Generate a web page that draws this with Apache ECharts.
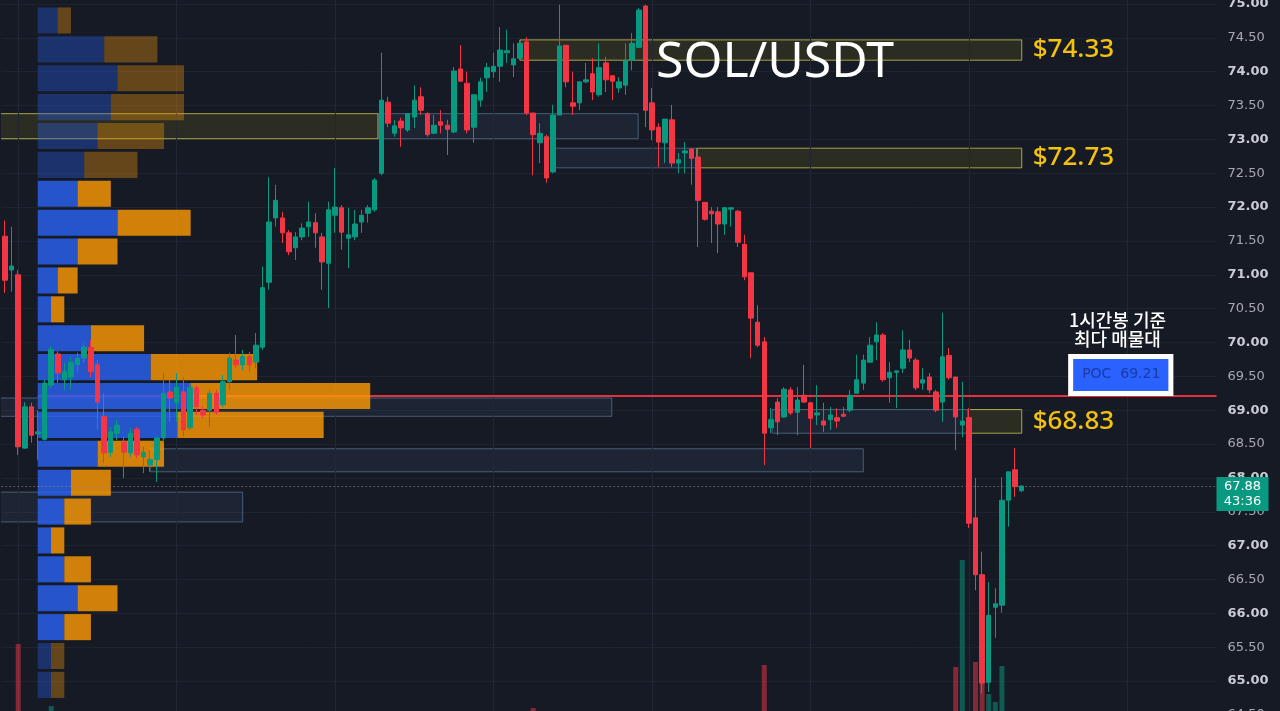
<!DOCTYPE html>
<html>
<head>
<meta charset="utf-8">
<title>SOL/USDT</title>
<script src="https://cdn.jsdelivr.net/npm/echarts@6/dist/echarts.min.js"></script>
<style>
html, body { margin: 0; padding: 0; background: #161a25; }
#main { width: 1280px; height: 711px; }
</style>
</head>
<body>
<div id="main"></div>
<script>
// 1시간봉 [시가, 종가, 저가, 고가]
var candles = [
  [71.57,70.92,70.73,71.80],[71.07,71.13,70.75,71.71],[71.00,68.46,68.34,71.07],[68.44,69.05,68.43,69.12],
  [69.05,68.63,68.52,69.11],[68.65,68.68,68.26,69.00],[68.57,69.40,68.55,69.45],[69.37,69.90,69.33,69.95],
  [69.83,69.55,69.40,69.87],[69.45,69.57,69.30,69.70],[69.49,69.71,69.30,69.79],[69.67,69.77,69.55,69.85],
  [69.77,69.93,69.70,69.99],[69.93,69.57,69.49,70.04],[69.67,69.12,68.71,69.74],[68.91,68.37,68.22,69.25],
  [68.38,68.68,68.31,68.75],[68.66,68.78,68.56,68.86],[68.53,68.38,68.00,68.61],[68.37,68.66,68.31,68.74],
  [68.72,68.34,68.29,68.75],[68.31,68.38,68.07,68.46],[68.19,68.27,68.09,68.41],[68.27,68.59,67.94,68.61],
  [68.59,69.25,68.52,69.55],[69.27,69.18,68.83,69.45],[69.11,69.34,68.83,69.55],[69.27,68.71,68.61,69.49],
  [68.74,69.34,68.71,69.40],[69.33,69.05,68.93,69.37],[69.00,68.93,68.89,69.05],[69.00,69.25,68.75,69.30],
  [69.25,68.97,68.93,69.30],[69.08,69.42,69.05,69.52],[69.42,69.77,69.30,69.85],[69.74,69.67,69.62,70.11],
  [69.67,69.79,69.59,69.89],[69.79,69.67,69.57,69.86],[69.71,69.96,69.62,70.14],[69.93,70.81,69.89,71.12],
  [70.89,71.78,70.78,72.44],[71.84,72.10,71.71,72.33],[71.84,71.62,71.47,71.93],[71.62,71.34,71.29,71.66],
  [71.40,71.56,71.22,71.63],[71.56,71.69,71.51,71.76],[71.71,71.78,71.56,72.08],[71.77,71.62,71.40,71.91],
  [71.56,71.19,70.78,71.62],[71.17,71.96,70.51,72.08],[71.88,72.00,71.62,72.58],[71.99,71.63,71.37,72.03],
  [71.54,71.59,71.10,71.99],[71.56,71.75,71.51,71.96],[71.78,71.88,71.62,71.96],[71.91,71.99,71.77,72.03],
  [71.96,72.40,71.93,72.43],[72.50,73.58,72.47,74.28],[73.55,73.24,73.18,73.63],[73.09,73.20,73.04,73.29],
  [73.27,73.17,72.89,73.32],[73.14,73.38,73.11,73.39],[73.33,73.58,73.17,73.80],[73.63,73.43,73.36,73.77],
  [73.38,73.07,73.04,73.40],[73.09,73.21,73.09,73.36],[73.26,73.21,73.09,73.43],[73.21,73.15,72.77,73.29],
  [73.11,74.01,73.09,74.07],[74.04,73.86,73.85,74.39],[73.83,73.14,73.09,74.00],[73.18,73.66,72.95,73.66],
  [73.58,73.85,73.48,73.91],[73.91,74.06,73.70,74.13],[74.00,74.08,73.91,74.28],[74.08,74.32,73.85,74.66],
  [74.28,74.31,74.13,74.62],[74.10,74.19,73.92,74.42],[74.20,74.42,74.17,74.47],[74.44,73.39,73.36,74.51],
  [73.39,73.07,72.47,73.39],[72.95,73.09,72.65,73.24],[73.04,72.43,72.36,73.07],[72.52,73.36,72.50,73.51],
  [73.36,74.38,73.36,74.99],[74.39,73.85,73.77,74.39],[73.54,73.49,73.36,74.00],[73.54,73.85,73.43,73.85],
  [73.85,73.88,73.83,74.13],[73.97,73.70,73.58,74.20],[73.66,74.06,73.63,74.42],[74.13,73.88,73.70,74.22],
  [73.94,73.86,73.58,73.95],[73.76,73.85,73.69,73.92],[73.80,74.17,73.66,74.42],[74.17,74.42,74.02,74.57],
  [74.36,74.91,74.35,74.94],[74.97,73.43,73.18,74.99],[73.54,73.14,72.99,73.76],[73.18,72.96,72.59,73.24],
  [72.95,73.30,72.65,73.30],[73.29,72.65,72.59,73.51],[72.65,72.70,72.50,72.80],[72.80,72.83,72.50,72.96],
  [72.86,72.72,72.33,72.87],[72.74,72.10,71.41,72.87],[72.07,71.82,71.80,72.07],[71.94,71.90,71.47,72.00],
  [71.93,71.75,71.32,72.00],[71.75,71.99,71.59,72.00],[71.97,71.99,71.71,72.00],[71.94,71.48,71.41,71.96],
  [71.45,70.97,70.92,71.59],[71.03,70.36,69.77,71.03],[70.30,69.96,69.93,70.55],[70.01,68.66,68.19,70.08],
  [68.74,68.86,68.66,69.03],[69.12,68.83,68.63,69.18],[68.90,69.31,68.89,69.34],[69.30,68.96,68.93,69.34],
  [68.97,69.15,68.63,69.34],[69.22,69.12,69.11,69.67],[69.11,68.88,68.44,69.12],[68.93,68.96,68.78,69.37],
  [68.84,68.78,68.68,69.11],[68.86,68.93,68.71,69.05],[68.89,68.84,68.74,69.03],[68.94,68.91,68.90,69.05],
  [69.00,69.22,68.97,69.30],[69.25,69.45,69.25,69.82],[69.40,69.74,69.30,69.82],[69.71,69.96,69.70,70.08],
  [70.01,70.11,69.74,70.30],[70.11,69.45,69.42,70.14],[69.48,69.56,69.11,69.71],[69.56,69.58,69.03,69.59],
  [69.62,69.89,69.55,70.18],[69.89,69.77,69.71,70.04],[69.74,69.33,69.30,69.77],[69.40,69.45,69.30,69.62],
  [69.49,69.30,69.25,69.55],[69.27,69.00,68.97,69.30],[69.12,69.79,68.83,70.44],[69.81,69.48,69.45,69.92],
  [69.49,68.90,68.41,69.49],[68.78,68.84,68.60,69.42],[68.89,67.33,67.26,69.03],[67.41,66.57,66.34,68.00],
  [66.57,64.97,64.82,66.91],[64.98,65.97,64.84,66.46],[66.09,66.14,65.64,66.37],[66.12,67.67,66.01,68.01],
  [67.67,68.09,67.28,68.09],[68.12,67.87,67.72,68.44],[67.81,67.88,67.79,67.89]
];

// 거래량 (천 단위, 대략)
var volumes = [
  40,30,116,45,35,25,40,54,25,20,20,18,20,25,35,40,22,18,30,20,
  22,15,14,25,40,20,25,28,25,18,12,20,15,20,25,22,15,14,20,45,
  48,30,20,18,15,12,18,15,25,35,30,20,18,14,12,12,25,48,25,15,
  18,15,22,15,20,12,12,18,40,25,30,20,15,12,12,25,15,12,15,40,
  52,25,35,38,45,30,18,15,12,18,20,15,12,10,20,18,35,45,30,25,
  22,28,12,12,15,35,20,15,18,14,10,22,28,40,30,95,30,25,22,20,
  22,18,25,14,12,10,10,8,15,22,25,20,22,30,15,14,25,15,22,12,
  14,18,40,25,93,200,42,98,115,66,58,94,40,30,8
];

// 매물대 (24구간, 위에서부터) 매수 / 매도
var profileBuy  = [3,10,12,11,9,7,6,12,6,3,2,8,17,23,21,9,5,4,2,4,6,4,2,2];
var profileSell = [2,8,10,11,10,8,5,11,6,3,2,8,16,27,22,10,6,4,2,4,6,4,2,2];
var profileTop = 74.97;
var rowSize = 0.4267;
var valueAreaFrom = 6, valueAreaTo = 21;

var pocPrice = 69.21;
var lastPrice = 67.88;
var countdown = '43:36';

// 지지/저항 구간
var zoneFrom  = [-1, 56.5, 78, 83, 104.8, -1, 22, -1, 116.2, 145.9];
var zoneTo    = [56.5, 95.9, 154, 104.8, 154, 91.9, 130, 36, 145.9, 154];
var zoneLow   = [73.01, 73.01, 74.17, 72.58, 72.58, 68.91, 68.09, 67.35, 68.66, 68.66];
var zoneHigh  = [73.38, 73.38, 74.47, 72.87, 72.87, 69.18, 68.43, 67.79, 69.01, 69.01];
var zoneKind  = ['gold','blue','gold','blue','gold','blue','blue','blue','blue','gold'];
var zoneLabel = ['', '', '$74.33', '', '$72.73', '', '', '', '', '$68.83'];

var dayLines = [2, 26, 50, 74, 98, 122, 146, 170];
var slots = 184;
var pocLineFrom = 4.95;

var categories = [];
for (var i = 0; i < slots; i++) categories.push(String(i));

var UP = '#089981', DOWN = '#f23645';

window.onload = function () {
  var myChart = echarts.init(document.getElementById('main'));

  var zoneData = zoneFrom.map(function (f, i) { return [f, zoneTo[i], zoneLow[i], zoneHigh[i]]; });
  var profileData = profileBuy.map(function (b, i) { return [i, b, profileSell[i]]; });
  var volData = volumes.map(function (v, i) {
    var up = candles[i][1] >= candles[i][0];
    return { value: v, itemStyle: { color: up ? 'rgba(8,153,129,0.5)' : 'rgba(242,54,69,0.5)' } };
  });

  function renderZone(params, api) {
    var i = params.dataIndex;
    var p0 = api.coord([api.value(0), api.value(3)]);
    var p1 = api.coord([api.value(1), api.value(2)]);
    var gold = zoneKind[i] === 'gold';
    var kids = [{
      type: 'rect',
      shape: { x: p0[0], y: p0[1], width: p1[0] - p0[0], height: p1[1] - p0[1] },
      style: {
        fill: gold ? 'rgba(150,140,30,0.17)' : 'rgba(80,110,150,0.13)',
        stroke: gold ? 'rgba(205,195,75,0.8)' : 'rgba(105,135,170,0.6)',
        lineWidth: 1
      }
    }];
    if (zoneLabel[i]) {
      kids.push({
        type: 'text', x: p1[0] + 11, y: (p0[1] + p1[1]) / 2,
        style: { text: zoneLabel[i], fill: '#f4c20d', font: '500 26px "Noto Sans"', align: 'left', verticalAlign: 'middle' }
      });
    }
    return { type: 'group', children: kids };
  }

  function renderProfile(params, api) {
    var row = api.value(0), buy = api.value(1), sell = api.value(2);
    var hi = profileTop - row * rowSize, lo = hi - rowSize;
    var a = api.coord([0, hi]), b = api.coord([buy, lo]), c = api.coord([buy + sell, lo]);
    var inVA = row >= valueAreaFrom && row <= valueAreaTo;
    var y = a[1] + 1.4, h = b[1] - a[1] - 2.8;
    return { type: 'group', children: [
      { type: 'rect', shape: { x: a[0], y: y, width: b[0] - a[0], height: h },
        style: { fill: inVA ? 'rgba(41,98,240,0.82)' : 'rgba(41,98,240,0.35)' } },
      { type: 'rect', shape: { x: b[0], y: y, width: c[0] - b[0], height: h },
        style: { fill: inVA ? 'rgba(250,152,5,0.82)' : 'rgba(250,152,5,0.35)' } }
    ]};
  }

  var option = {
    backgroundColor: '#161a25',
    animation: false,
    title: {
      text: 'SOL/USDT', left: 651, top: 33,
      textStyle: { color: '#ffffff', fontSize: 50, fontWeight: 'normal', fontFamily: 'Noto Sans' }
    },
    grid: [
      { left: 1.7, top: -29.85, width: 1214.8, height: 744.7, outerBoundsMode: 'none', containLabel: false },
      { left: 37.7, top: -29.85, width: 665, height: 744.7, outerBoundsMode: 'none', containLabel: false },
      { left: 1.7, top: 500, width: 1214.8, height: 260, outerBoundsMode: 'none', containLabel: false }
    ],
    xAxis: [
      { type: 'category', gridIndex: 0, data: categories, boundaryGap: true, show: false },
      { type: 'value', gridIndex: 0, min: -0.5, max: slots - 0.5, show: false },
      { type: 'value', gridIndex: 1, min: 0, max: 100, show: false },
      { type: 'category', gridIndex: 2, data: categories, boundaryGap: true, show: false }
    ],
    yAxis: [
      {
        type: 'value', gridIndex: 0, position: 'right', min: 64.5, max: 75.5, interval: 0.5,
        axisLine: { show: false }, axisTick: { show: false },
        splitLine: { lineStyle: { color: '#1f2330', width: 1 } },
        axisLabel: {
          margin: 11, fontSize: 13, fontFamily: 'DejaVu Sans',
          formatter: function (v) {
            var s = v.toFixed(2);
            return Math.abs(v - Math.round(v)) < 1e-6 ? '{b|' + s + '}' : '{n|' + s + '}';
          },
          rich: {
            b: { fontSize: 13, fontFamily: 'DejaVu Sans', fontWeight: 'bold', color: '#c9ccd3' },
            n: { fontSize: 13, fontFamily: 'DejaVu Sans', color: '#a6a9b1' }
          }
        }
      },
      { type: 'value', gridIndex: 1, min: 64.5, max: 75.5, show: false },
      { type: 'value', gridIndex: 2, min: 0, max: 260, show: false }
    ],
    series: [
      {
        name: 'zones', type: 'custom', xAxisIndex: 1, yAxisIndex: 0, z: 1, clip: true,
        renderItem: renderZone, data: zoneData, silent: true,
        markLine: {
          silent: true, symbol: ['none', 'none'], z: 2, animation: false,
          label: { show: false },
          data: dayLines.map(function (d) {
            return { xAxis: d, lineStyle: { color: '#232734', width: 1, type: 'solid' } };
          }).concat([[
            { coord: [pocLineFrom, pocPrice], lineStyle: { color: '#e5313c', width: 2, type: 'solid' } },
            { coord: [slots - 0.5, pocPrice] }
          ]])
        },
        markPoint: {
          silent: true, z: 10, animation: false,
          data: [
            {
              coord: [168.5, pocPrice], symbol: 'circle', symbolSize: 1,
              itemStyle: { color: 'rgba(0,0,0,0)' },
              label: {
                show: true, position: 'top', distance: 47,
                formatter: '1시간봉 기준\n최다 매물대', color: '#ffffff', fontSize: 18,
                fontFamily: 'Noto Sans CJK KR', fontWeight: 500, lineHeight: 19, align: 'center'
              }
            },
            {
              coord: [169, pocPrice], symbol: 'triangle', symbolRotate: 180, symbolSize: [8, 4], symbolOffset: [0, -3],
              itemStyle: { color: '#dfe6ff' },
              label: {
                show: true, position: 'top', distance: 0,
                formatter: 'POC  ' + pocPrice.toFixed(2),
                color: '#1b3aa6', fontSize: 14, fontFamily: 'DejaVu Sans', lineHeight: 15,
                backgroundColor: '#2962ff', borderColor: '#ffffff', borderWidth: 5, padding: [8, 8, 9, 9]
              }
            },
            {
              coord: [slots - 0.5, lastPrice], symbol: 'rect', symbolSize: [52, 34], symbolOffset: [26, 8],
              itemStyle: { color: UP },
              label: {
                show: true, position: 'inside', formatter: lastPrice.toFixed(2) + '\n' + countdown,
                color: '#ffffff', fontSize: 13, lineHeight: 15, fontFamily: 'DejaVu Sans'
              }
            }
          ]
        }
      },
      {
        name: 'volume', type: 'bar', xAxisIndex: 3, yAxisIndex: 2, z: 2, barWidth: 5,
        data: volData, silent: true
      },
      {
        name: 'profile', type: 'custom', xAxisIndex: 2, yAxisIndex: 1, z: 3,
        renderItem: renderProfile, data: profileData, silent: true
      },
      {
        name: 'SOL/USDT', type: 'candlestick', xAxisIndex: 0, yAxisIndex: 0, z: 5, barWidth: 5,
        data: candles, silent: true,
        itemStyle: { color: UP, color0: DOWN, borderColor: UP, borderColor0: DOWN, borderWidth: 1 },
        markLine: {
          silent: true, symbol: ['none', 'none'], animation: false,
          label: { show: false },
          lineStyle: { color: '#8c8f99', width: 1, type: [1, 3] },
          data: [{ yAxis: lastPrice }]
        }
      }
    ]
  };

  myChart.setOption(option);
};
</script>
</body>
</html>
